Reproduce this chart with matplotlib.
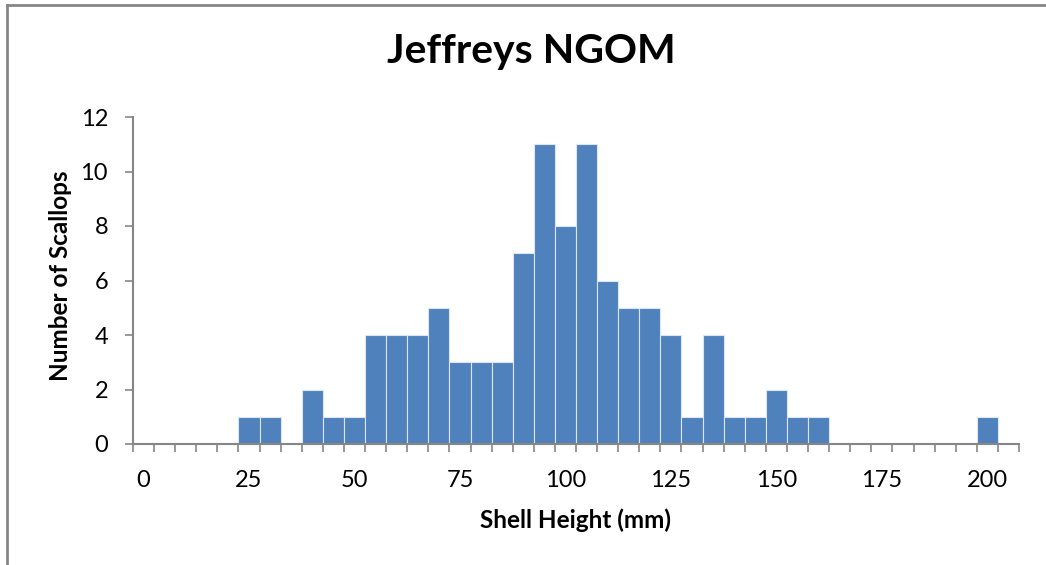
import matplotlib
matplotlib.use("Agg")
import matplotlib.pyplot as plt
from matplotlib.lines import Line2D
import numpy as np

plt.rcParams['font.family'] = ['Lato', 'DejaVu Sans']

# Data: shell height bins (mm) and counts
bins = list(range(0, 210, 5))  # 0..205
counts = [0, 0, 0, 0, 0, 1, 1, 0, 2, 1,
          1, 4, 4, 4, 5, 3, 3, 3, 7, 11,
          8, 11, 6, 5, 5, 4, 1, 4, 1, 1,
          2, 1, 1, 0, 0, 0, 0, 0, 0, 0,
          1, 0]
tick_labels = ['0', '25', '50', '75', '100', '125', '150', '175', '200']
title = 'Jeffreys NGOM'
xlabel = 'Shell Height (mm)'
ylabel = 'Number of Scallops'

W, H = 1046, 565
fig = plt.figure(figsize=(W / 100, H / 100), dpi=100)
ax = fig.add_axes([133 / W, (H - 444) / H, 886 / W, 327 / H])

x = np.arange(len(bins))
ax.bar(x, counts, width=1.0, color='#4F81BD', edgecolor='#DCE6F2', linewidth=0.8, zorder=2)

ax.set_xlim(-0.5, len(bins) - 0.5)
ax.set_ylim(0, 12)
ax.set_yticks(range(0, 13, 2))

label_pos = [bins.index(int(t)) for t in tick_labels]
ax.set_xticks(label_pos)
ax.set_xticklabels(tick_labels)
ax.tick_params(axis='x', length=0, pad=18.5, labelsize=17)
ax.set_xticks(np.arange(-0.5, len(bins), 1.0), minor=True)
ax.tick_params(axis='x', which='minor', length=6, width=1.2, color='#868686', direction='out')
ax.tick_params(axis='y', length=6, width=1.2, color='#868686', labelsize=17, pad=12)

for s in ['top', 'right']:
    ax.spines[s].set_visible(False)
for s in ['left', 'bottom']:
    ax.spines[s].set_color('#868686')
    ax.spines[s].set_linewidth(1.5)

ax.set_xlabel(xlabel, fontsize=17.5, fontweight='bold', va='center')
ax.set_ylabel(ylabel, fontsize=17.5, fontweight='bold', va='center')
ax.xaxis.set_label_coords((575 - 133) / 886, (444 - 520) / 327)
ax.yaxis.set_label_coords((60 - 133) / 886, (444 - 276) / 327)

fig.text(531 / W, 1 - 63 / H, title, fontsize=29.5, fontweight='bold', ha='center', va='baseline')

# outer frame (left and top edges)
fig.add_artist(Line2D([7 / W, 7 / W], [0, 1 - 5 / H], transform=fig.transFigure, color='#868686', lw=2))
fig.add_artist(Line2D([7 / W, 1], [1 - 5 / H, 1 - 5 / H], transform=fig.transFigure, color='#868686', lw=2))

fig.savefig('out.png', dpi=100)
